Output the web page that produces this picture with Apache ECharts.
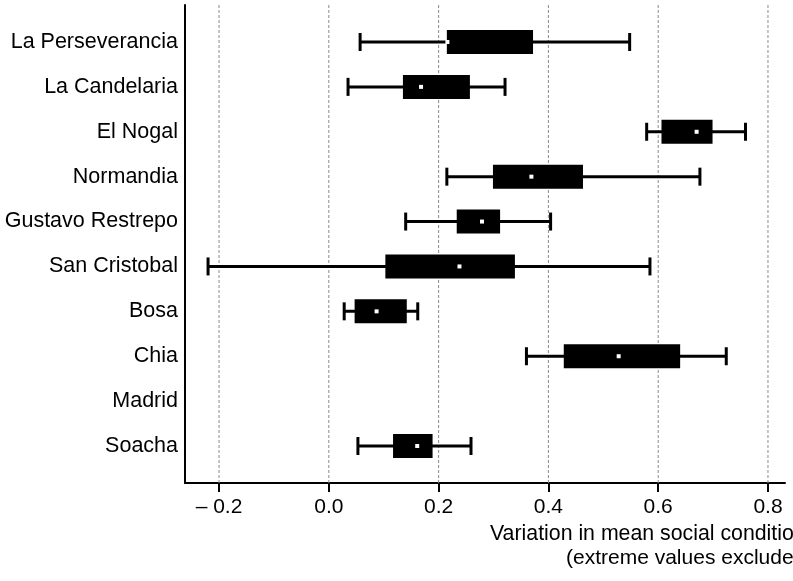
<!DOCTYPE html>
<html>
<head>
<meta charset="utf-8">
<script src="https://cdn.jsdelivr.net/npm/echarts@6/dist/echarts.min.js"></script>
<style>html,body{margin:0;padding:0;background:#fff;}#c{width:793px;height:581px;}</style>
</head>
<body>
<div id="c"></div>
<script>
var categories = ['La Perseverancia','La Candelaria','El Nogal','Normandia','Gustavo Restrepo','San Cristobal','Bosa','Chia','Madrid','Soacha'];
var whiskerLow  = [0.057, 0.035, 0.579, 0.215, 0.140, -0.220, 0.028, 0.360, null, 0.053];
var q1          = [0.215, 0.135, 0.606, 0.299, 0.233,  0.103, 0.047, 0.428, null, 0.117];
var median      = [0.216, 0.168, 0.670, 0.369, 0.279,  0.238, 0.087, 0.528, null, 0.161];
var q3          = [0.372, 0.257, 0.699, 0.463, 0.312,  0.339, 0.142, 0.640, null, 0.189];
var whiskerHigh = [0.548, 0.321, 0.759, 0.676, 0.404,  0.585, 0.162, 0.724, null, 0.259];
var xTicks = [-0.2, 0.0, 0.2, 0.4, 0.6, 0.8];
var xTitle1 = 'Variation in mean social conditions';
var xTitle2 = '(extreme values excluded)';

var FONT = '"Liberation Sans", Arial, sans-serif';
var boxData = [];
for (var i = 0; i < categories.length; i++) {
  if (q1[i] == null) continue;
  boxData.push([i, whiskerLow[i], q1[i], median[i], q3[i], whiskerHigh[i]]);
}

var chart = echarts.init(document.getElementById('c'));
chart.setOption({
  animation: false,
  backgroundColor: '#fff',
  grid: { left: 185, right: 8, top: 5, bottom: 98 },
  xAxis: {
    type: 'value', min: -0.262, max: 0.831,
    axisLine: { show: true, onZero: false, lineStyle: { color: '#000', width: 2 } },
    axisTick: { show: true, customValues: xTicks, length: 9, inside: false, lineStyle: { color: '#000', width: 2 } },
    axisLabel: {
      customValues: xTicks, margin: 14, color: '#000', fontSize: 21, fontFamily: FONT,
      formatter: function (v) { return v < 0 ? '\u2013 ' + Math.abs(v).toFixed(1) : v.toFixed(1); }
    },
    splitLine: { show: false }
  },
  yAxis: {
    type: 'value', inverse: true, min: -0.824, max: 9.824,
    axisLine: { show: true, onZero: false, lineStyle: { color: '#000', width: 2 } },
    axisTick: { show: false },
    axisLabel: {
      customValues: [0,1,2,3,4,5,6,7,8,9], margin: 7, color: '#000', fontSize: 21.5, fontFamily: FONT,
      padding: [4, 0, 0, 0],
      formatter: function (v) { return categories[Math.round(v)]; }
    },
    splitLine: { show: false }
  },
  graphic: [
    { type: 'text', left: 490, top: 524, style: { text: xTitle1, fill: '#000', font: '21.3px ' + FONT } },
    { type: 'text', left: 566, top: 548, style: { text: xTitle2, fill: '#000', font: '21px ' + FONT } }
  ],
  series: [
    {
      type: 'custom', name: 'grid', silent: true, z: 1,
      data: xTicks.map(function (t) { return [t]; }),
      renderItem: function (params, api) {
        var cs = params.coordSys;
        var x = api.coord([api.value(0), 0])[0];
        return { type: 'line', shape: { x1: x, y1: cs.y, x2: x, y2: cs.y + cs.height },
          style: { stroke: '#8a8a8a', lineWidth: 1, lineDash: [3, 2] } };
      }
    },
    {
      type: 'custom', name: 'box', z: 3,
      data: boxData,
      encode: { x: [1, 2, 3, 4, 5], y: 0 },
      renderItem: function (params, api) {
        var c = api.value(0);
        var y = api.coord([0, c])[1];
        var xl = api.coord([api.value(1), c])[0];
        var x1 = api.coord([api.value(2), c])[0];
        var xm = api.coord([api.value(3), c])[0];
        var x3 = api.coord([api.value(4), c])[0];
        var xh = api.coord([api.value(5), c])[0];
        var bh = 24, ch = 18;
        var ls = { stroke: '#000', lineWidth: 3 };
        return { type: 'group', children: [
          { type: 'line', shape: { x1: xl, y1: y, x2: xh, y2: y }, style: ls },
          { type: 'line', shape: { x1: xl, y1: y - ch / 2, x2: xl, y2: y + ch / 2 }, style: ls },
          { type: 'line', shape: { x1: xh, y1: y - ch / 2, x2: xh, y2: y + ch / 2 }, style: ls },
          { type: 'rect', shape: { x: x1, y: y - bh / 2, width: x3 - x1, height: bh }, style: { fill: '#000' } },
          { type: 'rect', shape: { x: xm - 2, y: y - 2, width: 4, height: 4 }, style: { fill: '#fff' } }
        ] };
      }
    }
  ]
});
</script>
</body>
</html>
